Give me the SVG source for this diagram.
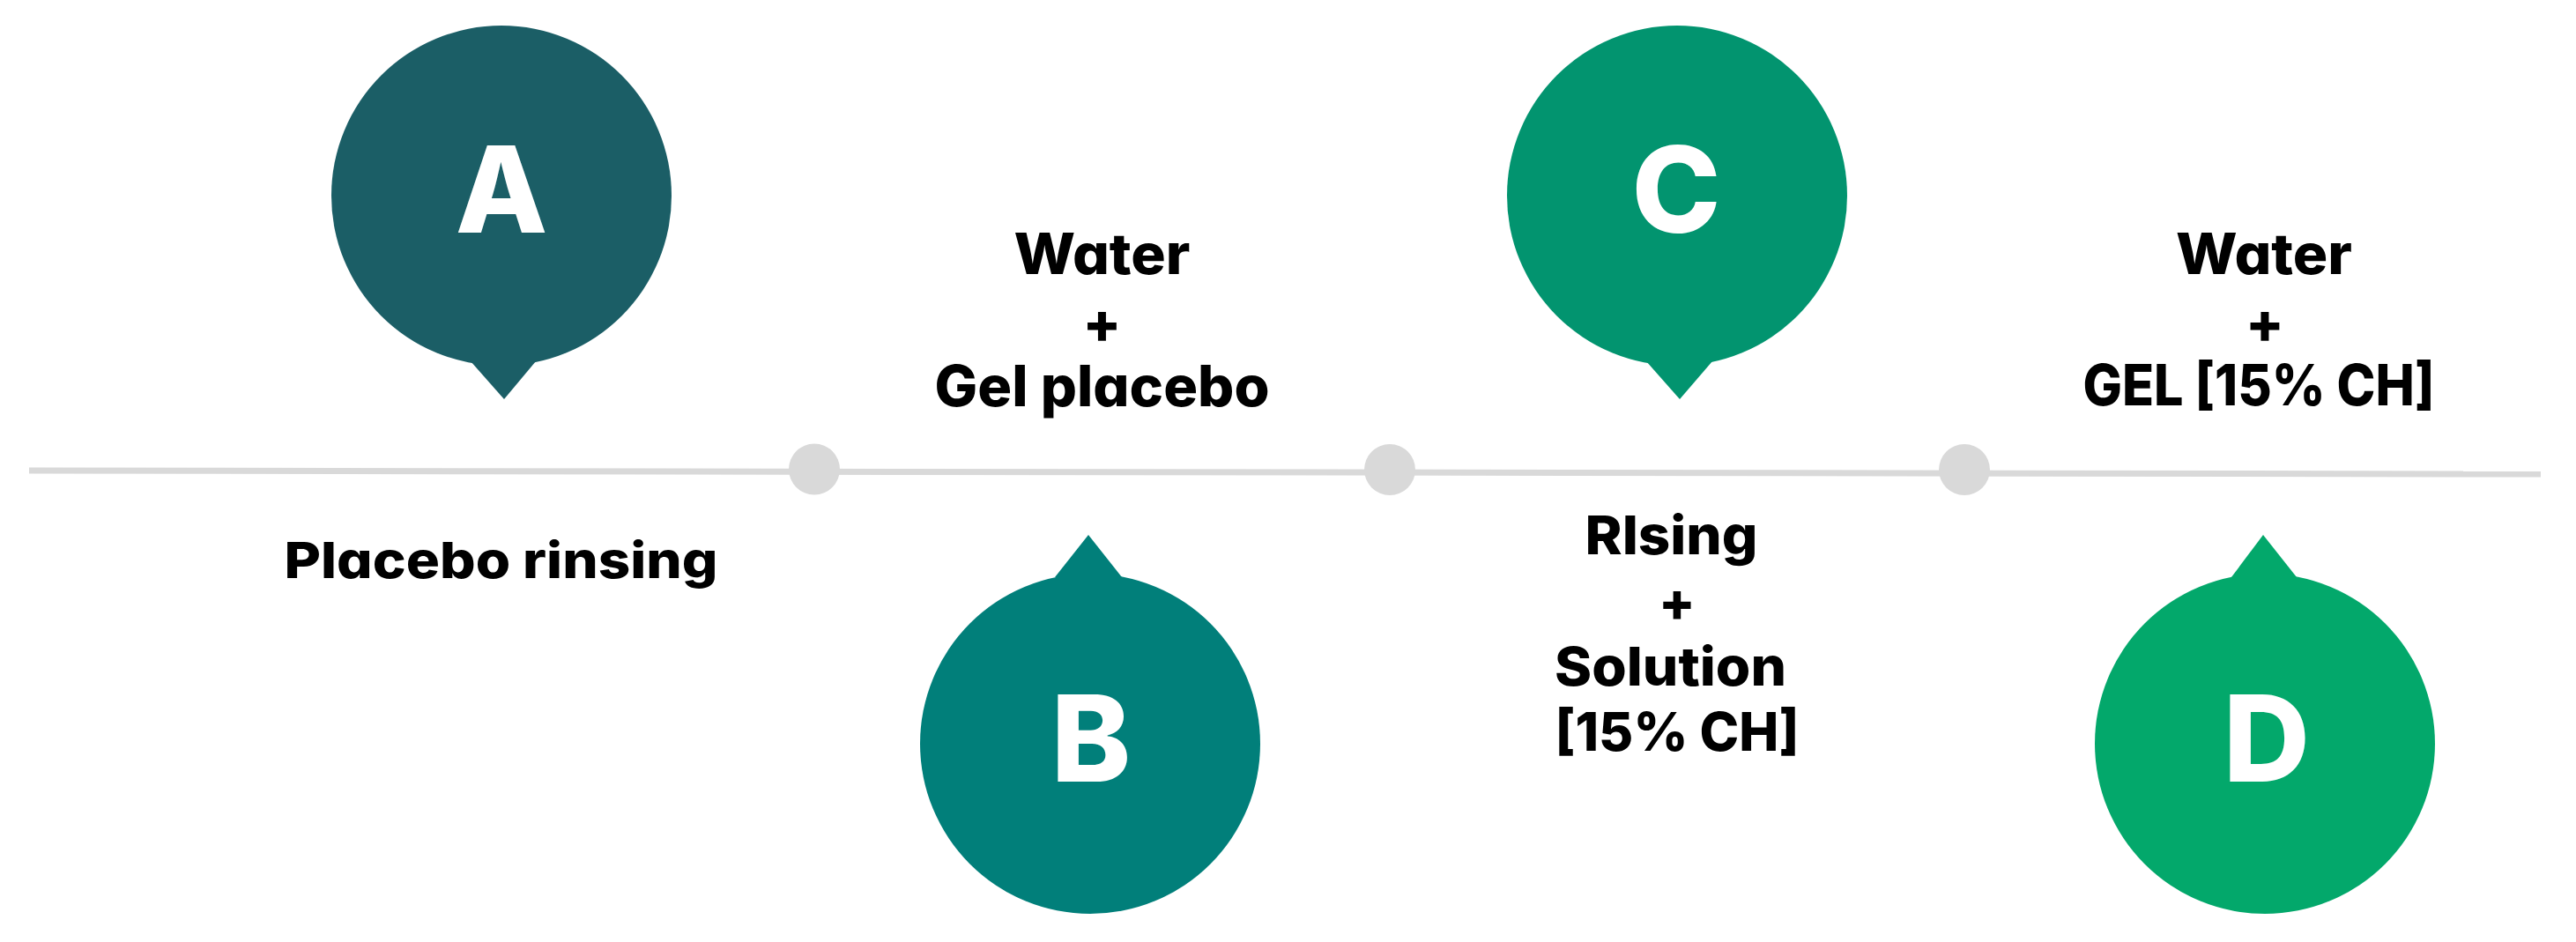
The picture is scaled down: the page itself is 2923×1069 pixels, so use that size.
<svg xmlns="http://www.w3.org/2000/svg" width="2923" height="1069" viewBox="0 0 2923 1069">
<style>
  .lbl { font-family: Inter, "Noto Sans", "Liberation Sans", sans-serif; font-weight: 800; fill: #000; text-anchor: middle; font-feature-settings: "cv11" 1; }
  .big { font-family: Inter, "Noto Sans", "Liberation Sans", sans-serif; font-weight: 800; fill: #fff; text-anchor: middle; font-size: 136px; }
  .tl { stroke: #D9D9D9; stroke-width: 7; fill: none; }
  .dot { fill: #D9D9D9; }
</style>
<rect width="2923" height="1069" fill="#fff"/>
<g id="connectors">
  <line class="tl" x1="33" y1="534" x2="2883" y2="538"/>
  <circle class="dot" cx="924" cy="532.5" r="29"/>
  <circle class="dot" cx="1577" cy="533" r="29"/>
  <circle class="dot" cx="2229" cy="533" r="29"/>
</g>
<g id="node-A" fill="#1B5E66">
  <circle cx="569" cy="222" r="193"/>
  <polygon points="534,410 608,410 572,453"/>
  <text class="big" x="569" y="264">A</text>
</g>
<g id="node-B" fill="#017F7A">
  <circle cx="1237" cy="844" r="193"/>
  <polygon points="1197,655 1273,655 1235,607"/>
  <text class="big" x="1238" y="887">B</text>
</g>
<g id="node-C" fill="#02946F">
  <circle cx="1903" cy="222" r="193"/>
  <polygon points="1868,410 1943,410 1906,453"/>
  <text class="big" x="1902" y="264">C</text>
</g>
<g id="node-D" fill="#03A86B">
  <circle cx="2570" cy="844" r="193"/>
  <polygon points="2532,655 2606,655 2568,607"/>
  <text class="big" x="2572" y="887">D</text>
</g>
<g id="label-A">
  <text class="lbl" x="568.5" y="656" font-size="57" textLength="492" lengthAdjust="spacingAndGlyphs">Placebo rinsing</text>
</g>
<g id="label-B">
  <text class="lbl" x="1250.5" y="311" font-size="64" textLength="200" lengthAdjust="spacingAndGlyphs">Water</text>
  <text class="lbl" x="1250.5" y="389" font-size="64">+</text>
  <text class="lbl" x="1250.5" y="461" font-size="64" textLength="380" lengthAdjust="spacingAndGlyphs">Gel placebo</text>
</g>
<g id="label-C">
  <text class="lbl" x="1896.5" y="629" font-size="61" textLength="196" lengthAdjust="spacingAndGlyphs">RIsing</text>
  <text class="lbl" x="1903" y="705" font-size="61">+</text>
  <text class="lbl" x="1895.5" y="778" font-size="61" textLength="263" lengthAdjust="spacingAndGlyphs">Solution</text>
  <text class="lbl" x="1903" y="852" font-size="61" textLength="277" lengthAdjust="spacingAndGlyphs">[15% CH]</text>
</g>
<g id="label-D">
  <text class="lbl" x="2569" y="311" font-size="64" textLength="200" lengthAdjust="spacingAndGlyphs">Water</text>
  <text class="lbl" x="2570" y="389" font-size="64">+</text>
  <text class="lbl" x="2563" y="460" font-size="64" textLength="399" lengthAdjust="spacingAndGlyphs">GEL [15% CH]</text>
</g>
</svg>
